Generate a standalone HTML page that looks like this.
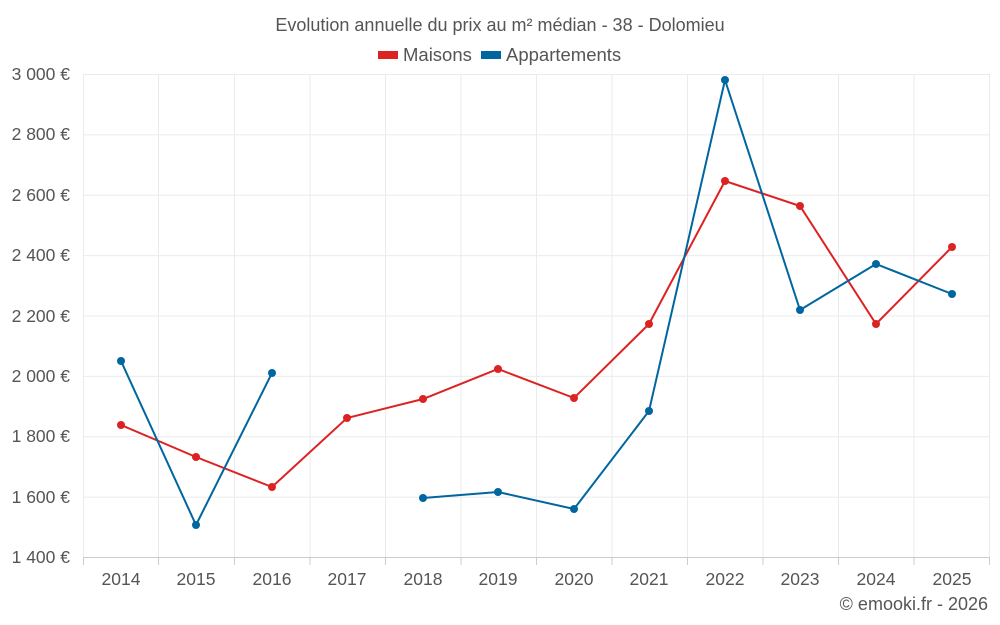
<!DOCTYPE html>
<html><head><meta charset="utf-8"><style>
body{margin:0;background:#fff;}
svg{display:block;font-family:"Liberation Sans",sans-serif;}
</style></head><body>
<svg width="1000" height="625" viewBox="0 0 1000 625">
<rect width="1000" height="625" fill="#fff"/>
<g stroke="#ebebeb" stroke-width="1">
<line x1="83" y1="74.5" x2="990" y2="74.5"/>
<line x1="83" y1="134.9" x2="990" y2="134.9"/>
<line x1="83" y1="195.3" x2="990" y2="195.3"/>
<line x1="83" y1="255.6" x2="990" y2="255.6"/>
<line x1="83" y1="316" x2="990" y2="316"/>
<line x1="83" y1="376.4" x2="990" y2="376.4"/>
<line x1="83" y1="436.8" x2="990" y2="436.8"/>
<line x1="83" y1="497.1" x2="990" y2="497.1"/>
<line x1="83.5" y1="74" x2="83.5" y2="557"/>
<line x1="158.5" y1="74" x2="158.5" y2="557"/>
<line x1="234.5" y1="74" x2="234.5" y2="557"/>
<line x1="310" y1="74" x2="310" y2="557"/>
<line x1="385.5" y1="74" x2="385.5" y2="557"/>
<line x1="461" y1="74" x2="461" y2="557"/>
<line x1="536.5" y1="74" x2="536.5" y2="557"/>
<line x1="612" y1="74" x2="612" y2="557"/>
<line x1="687.5" y1="74" x2="687.5" y2="557"/>
<line x1="763" y1="74" x2="763" y2="557"/>
<line x1="838.5" y1="74" x2="838.5" y2="557"/>
<line x1="914" y1="74" x2="914" y2="557"/>
<line x1="989.5" y1="74" x2="989.5" y2="557"/>
</g>
<line x1="83" y1="557.5" x2="990" y2="557.5" stroke="#ccc"/>
<g stroke="#ccc">
<line x1="83.5" y1="557" x2="83.5" y2="565"/><line x1="158.5" y1="557" x2="158.5" y2="565"/><line x1="234.5" y1="557" x2="234.5" y2="565"/><line x1="310" y1="557" x2="310" y2="565"/><line x1="385.5" y1="557" x2="385.5" y2="565"/><line x1="461" y1="557" x2="461" y2="565"/><line x1="536.5" y1="557" x2="536.5" y2="565"/><line x1="612" y1="557" x2="612" y2="565"/><line x1="687.5" y1="557" x2="687.5" y2="565"/><line x1="763" y1="557" x2="763" y2="565"/><line x1="838.5" y1="557" x2="838.5" y2="565"/><line x1="914" y1="557" x2="914" y2="565"/><line x1="989.5" y1="557" x2="989.5" y2="565"/>
</g>
<g fill="#555" font-size="17.5" text-anchor="end">
<text x="70" y="80">3 000 €</text><text x="70" y="140">2 800 €</text><text x="70" y="201">2 600 €</text><text x="70" y="261">2 400 €</text><text x="70" y="322">2 200 €</text><text x="70" y="382">2 000 €</text><text x="70" y="442">1 800 €</text><text x="70" y="503">1 600 €</text><text x="70" y="563">1 400 €</text>
</g>
<g fill="#555" font-size="17.5" text-anchor="middle">
<text x="121" y="585">2014</text><text x="196" y="585">2015</text><text x="272" y="585">2016</text><text x="347" y="585">2017</text><text x="423" y="585">2018</text><text x="498" y="585">2019</text><text x="574" y="585">2020</text><text x="649" y="585">2021</text><text x="725" y="585">2022</text><text x="800" y="585">2023</text><text x="876" y="585">2024</text><text x="952" y="585">2025</text>
<text x="500" y="31" font-size="18">Evolution annuelle du prix au m² médian - 38 - Dolomieu</text>
</g>
<rect x="378" y="51" width="20" height="8" fill="#dd2222"/>
<text x="403" y="61" fill="#555" font-size="18.5">Maisons</text>
<rect x="481" y="51" width="20" height="8" fill="#0066a0"/>
<text x="506" y="61" fill="#555" font-size="18.5">Appartements</text>
<text x="988" y="610" fill="#555" font-size="18" text-anchor="end">© emooki.fr - 2026</text>
<polyline fill="none" stroke="#dd2222" stroke-width="2" points="121,425 196,457 272,487 347,418 423,399 498,369 574,398 649,324 725,181 800,206 876,324 952,247"/>
<g fill="#dd2222">
<circle cx="121" cy="425" r="4"/><circle cx="196" cy="457" r="4"/><circle cx="272" cy="487" r="4"/><circle cx="347" cy="418" r="4"/><circle cx="423" cy="399" r="4"/><circle cx="498" cy="369" r="4"/><circle cx="574" cy="398" r="4"/><circle cx="649" cy="324" r="4"/><circle cx="725" cy="181" r="4"/><circle cx="800" cy="206" r="4"/><circle cx="876" cy="324" r="4"/><circle cx="952" cy="247" r="4"/>
</g>
<polyline fill="none" stroke="#0066a0" stroke-width="2" points="121,361 196,525 272,373"/>
<polyline fill="none" stroke="#0066a0" stroke-width="2" points="423,498 498,492 574,509 649,411 725,80 800,310 876,264 952,294"/>
<g fill="#0066a0">
<circle cx="121" cy="361" r="4"/><circle cx="196" cy="525" r="4"/><circle cx="272" cy="373" r="4"/><circle cx="423" cy="498" r="4"/><circle cx="498" cy="492" r="4"/><circle cx="574" cy="509" r="4"/><circle cx="649" cy="411" r="4"/><circle cx="725" cy="80" r="4"/><circle cx="800" cy="310" r="4"/><circle cx="876" cy="264" r="4"/><circle cx="952" cy="294" r="4"/>
</g>
</svg>
</body></html>
